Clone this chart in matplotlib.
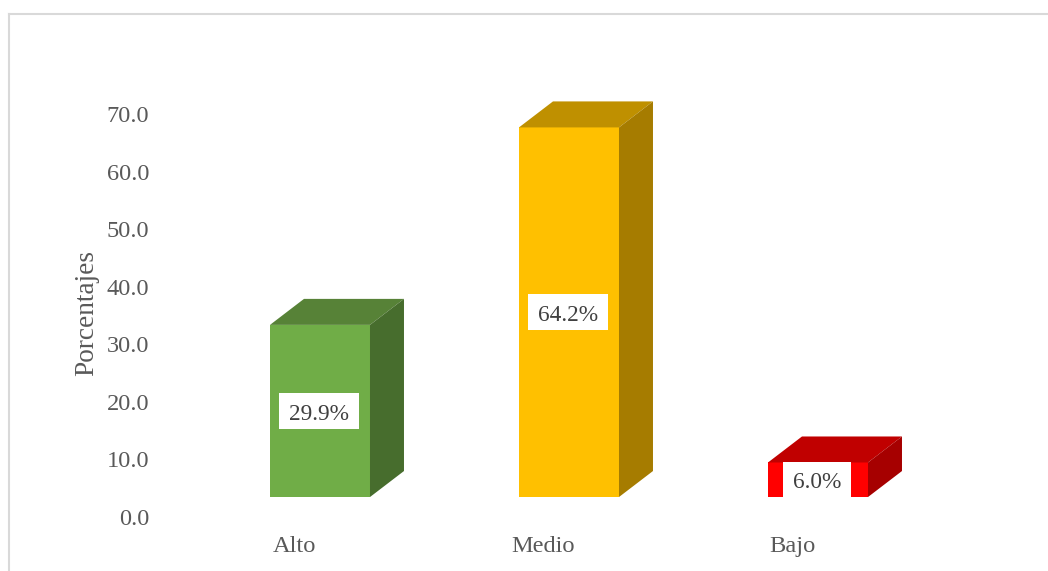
import matplotlib
matplotlib.use('Agg')
import matplotlib.pyplot as plt
from matplotlib.lines import Line2D
from matplotlib.patches import Polygon, Rectangle
from matplotlib.transforms import IdentityTransform

categories = ['Alto', 'Medio', 'Bajo']
values = [29.9, 64.2, 6.0]
labels = ['29.9%', '64.2%', '6.0%']
yticks = [0, 10, 20, 30, 40, 50, 60, 70]
front_colors = ['#70AD47', '#FFC000', '#FF0000']
top_colors = ['#578237', '#BF9000', '#C00000']
side_colors = ['#476D2D', '#A67C00', '#A60000']

W, H = 1048, 571
plt.rcParams['font.family'] = ['Liberation Serif', 'DejaVu Serif']

fig = plt.figure(figsize=(W / 100, H / 100), dpi=100)
ax = fig.add_axes([169.5 / W, (H - 517) / H, 747 / W, 403 / H])
ax.set_xlim(-0.5, 2.5)
ax.set_ylim(0, 70)

# fake 3d: offsets in data units
xshift = 0.1044
base = 3.47
width = 0.4016
dx = 0.1365
dy = 4.516

renderer = fig.canvas.get_renderer()
for i in range(len(values)):
    left = i + xshift - width / 2
    right = left + width
    top = base + values[i]
    ax.bar(i + xshift, values[i], width=width, bottom=base, color=front_colors[i], clip_on=False, zorder=2)
    ax.add_patch(Polygon([(left, top), (right, top), (right + dx, top + dy), (left + dx, top + dy)],
                         closed=True, facecolor=top_colors[i], edgecolor='none', clip_on=False, zorder=2))
    ax.add_patch(Polygon([(right, base), (right + dx, base + dy), (right + dx, top + dy), (right, top)],
                         closed=True, facecolor=side_colors[i], edgecolor='none', clip_on=False, zorder=2))
    t = ax.annotate(labels[i], (i + xshift - 0.004, base + values[i] / 2), xytext=(0, -2.2),
                    textcoords='offset points', ha='center', va='center', fontsize=16.8,
                    color='#404040', zorder=4)
    # white label box, 10px either side of the text and 36px tall
    bb = t.get_window_extent(renderer)
    cy = ax.transData.transform((0, base + values[i] / 2))[1]
    ax.add_patch(Rectangle((bb.x0 - 10, cy - 18), bb.width + 20, 36, transform=IdentityTransform(),
                           facecolor='white', edgecolor='none', clip_on=False, zorder=3))

ax.set_xticks(range(len(categories)))
ax.set_xticklabels(categories, fontsize=17.6, color='#595959')
ax.set_yticks(yticks)
ax.set_yticklabels([f'{v:.1f}' for v in yticks], fontsize=17.6, color='#595959')
ax.tick_params(axis='x', length=0, pad=14)
ax.tick_params(axis='y', length=0, pad=14.4)
for s in ax.spines.values():
    s.set_visible(False)
ax.patch.set_alpha(0)

ax.set_ylabel('Porcentajes', fontsize=19.6, color='#595959', va='center')
ax.yaxis.set_label_coords((87 - 169.5) / 747, 0.505)

# chart frame, cut off by the screenshot on the right and bottom
fig.add_artist(Line2D([9 / W, 9 / W], [0, (H - 13.5) / H], color='#D9D9D9', lw=1.5))
fig.add_artist(Line2D([9 / W, 1], [(H - 13.5) / H, (H - 13.5) / H], color='#D9D9D9', lw=1.5))

fig.savefig('out.png', dpi=100)
